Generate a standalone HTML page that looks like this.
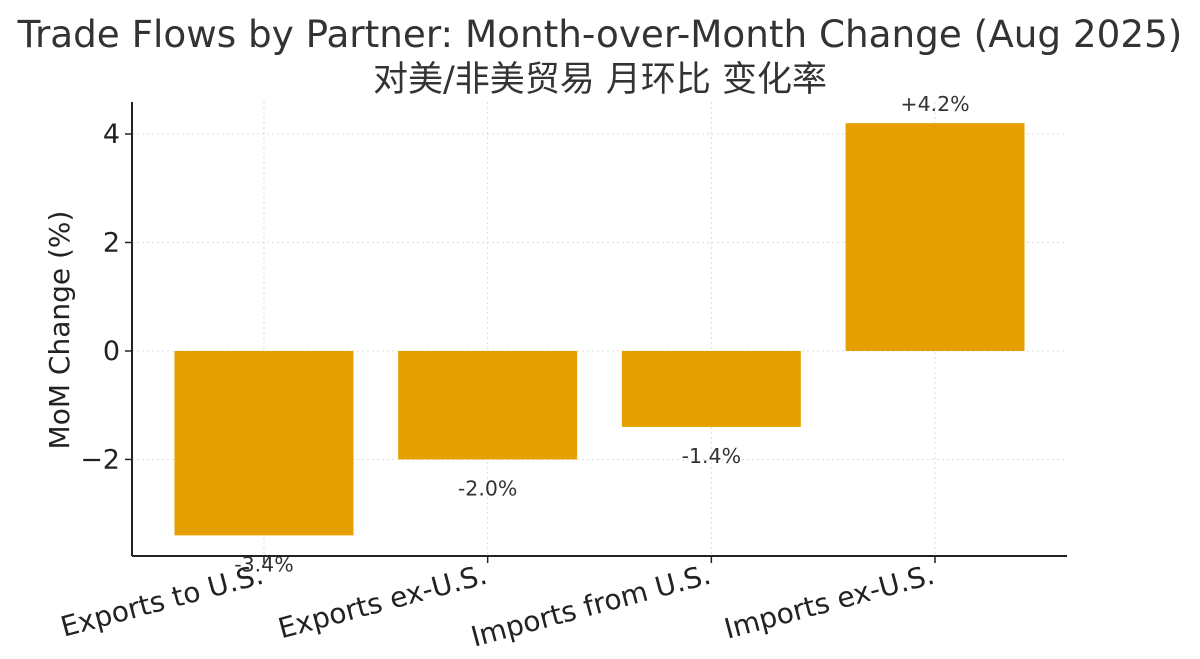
<!DOCTYPE html>
<html><head><meta charset="utf-8"><style>
html,body{margin:0;padding:0;background:#fff;}
svg{display:block;font-family:"DejaVu Sans","Liberation Sans","Noto Sans CJK SC",sans-serif;}
</style></head><body>
<svg id="chart" width="1200" height="659" viewBox="0 0 1200 659">
<text x="600" y="47" text-anchor="middle" font-size="37.3" fill="#333">Trade Flows by Partner: Month-over-Month Change (Aug 2025)</text>
<text x="600" y="91" text-anchor="middle" font-size="35" fill="#333">对美/非美贸易 月环比 变化率</text>
<text transform="translate(69,330) rotate(-90)" text-anchor="middle" font-size="28" fill="#222">MoM Change (%)</text>
<g id="grid"></g><g id="bars"></g><g id="labels"></g><g id="axes"></g>
</svg>
<script>
const categories = ["Exports to U.S.", "Exports ex-U.S.", "Imports from U.S.", "Imports ex-U.S."];
const values = [-3.4, -2.0, -1.4, 4.2];
const valueLabels = ["-3.4%", "-2.0%", "-1.4%", "+4.2%"];
const yTicks = [-2, 0, 2, 4];
const yTickLabels = ["\u22122", "0", "2", "4"];

const NS = "http://www.w3.org/2000/svg";
const L = 132, R = 1067, T = 102, B = 556;
const yMin = -3.78, yMax = 4.59, xMin = -0.59, xMax = 3.59;
const x = v => L + (v - xMin) / (xMax - xMin) * (R - L);
const y = v => B - (v - yMin) / (yMax - yMin) * (B - T);
function mk(tag, attrs, parent, text) {
  const e = document.createElementNS(NS, tag);
  for (const k in attrs) e.setAttribute(k, attrs[k]);
  if (text !== undefined) e.textContent = text;
  document.getElementById(parent).appendChild(e);
  return e;
}
yTicks.forEach((t, i) => {
  const g = mk("line", {x1: L, x2: R, y1: y(t), y2: y(t), stroke: "#ddd", "stroke-dasharray": "2,3"}, "grid");
  
  
  const tk = mk("line", {x1: L - 7, x2: L, y1: y(t), y2: y(t), stroke: "#222", "stroke-width": 1.5}, "axes");
  
  
  const tl = mk("text", {x: L - 12, y: y(t) + 9, "text-anchor": "end", "font-size": 27, fill: "#222"}, "axes", yTickLabels[i]);
  
  
});
categories.forEach((c, i) => {
  const cx = x(i);
  const g = mk("line", {x1: cx, x2: cx, y1: T, y2: B, stroke: "#ddd", "stroke-dasharray": "2,3"}, "grid");
  
  
  const v = values[i];
  const top = y(Math.max(v, 0)), bot = y(Math.min(v, 0));
  const b = mk("rect", {x: x(i - 0.4), y: top, width: x(i + 0.4) - x(i - 0.4), height: bot - top, fill: "#E69F00"}, "bars");
  
  
  const ly = v >= 0 ? y(v) - 12 : y(v) + 36;
  const vl = mk("text", {x: cx, y: ly, "text-anchor": "middle", "font-size": 20.5, fill: "#333"}, "labels", valueLabels[i]);
  
  
  const tk = mk("line", {x1: cx, x2: cx, y1: B, y2: B + 7, stroke: "#222", "stroke-width": 1.5}, "axes");
  
  
  const cl = mk("text", {x: 0, y: 0, "text-anchor": "end", "font-size": 28, fill: "#222", transform: `translate(${cx + 1},${B + 27}) rotate(-15)`}, "axes", c);
  
  
});
const ax1 = mk("line", {x1: L, x2: L, y1: T, y2: B, stroke: "#222", "stroke-width": 2}, "axes");


const ax2 = mk("line", {x1: L, x2: R, y1: B, y2: B, stroke: "#222", "stroke-width": 2}, "axes");


</script>
</body></html>
